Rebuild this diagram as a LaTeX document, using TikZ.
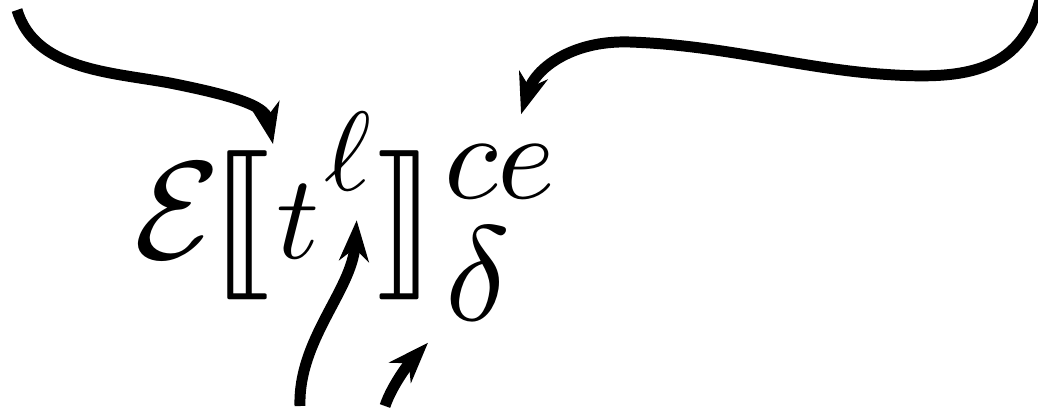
\documentclass[tikz,border=0pt]{standalone}
\usepackage{amsmath}
\usepackage{stmaryrd}
\usetikzlibrary{arrows.meta,calc}
\tikzset{
  glyph/.style={
    inner sep=0pt,
    anchor=base west
  },
  arrow/.style={
    -{Stealth[length=29pt,width=21pt,inset=9pt]},
    line width=7.8pt,
    black
  }
}
\begin{document}
\begin{tikzpicture}[x=0.025cm,y=-0.025cm]
\useasboundingbox (0,0) rectangle (1038,410);
% the formula, glyph by glyph
\node[glyph, scale=9.9] (calE) at (132,258) {$\mathcal{E}$};
\node[glyph, scale=10.6] (lbr) at (208,262) {$\llbracket$};
\node[glyph, scale=8.5] (tt) at (274,258) {$t$};
\node[glyph, scale=8.0] (ell) at (322,190) {$\ell$};
\node[glyph, scale=10.6] (rbr) at (374,262) {$\rrbracket$};
\node[glyph, scale=8.8] (ce) at (442,198) {$ce$};
\node[glyph, scale=9.6] (dl) at (443,320) {$\delta$};
% free ends and tips
\coordinate (fromA) at (17,10);
\coordinate (fromB) at (1040,0);
\coordinate (fromC) at (300,406);
\coordinate (fromD) at (385,406);
\coordinate (tipA) at ([shift={(-1,-38)}]tt.north west);
\coordinate (tipB) at ([shift={(21,-28)}]ce.north);
\coordinate (tipC) at ([shift={(9,28)}]ell.south);
\coordinate (tipD) at ([shift={(-15,20)}]dl.south west);
% arrows
\draw[arrow] (fromA) .. controls (35,70) and (110,72) .. (170,83)
  .. controls (230,95) and (265,105) .. (tipA);
\draw[arrow] (fromB) .. controls (1020,75) and (960,80) .. (880,74)
  .. controls (800,68) and (720,45) .. (630,42)
  .. controls (570,40) and (535,70) .. (tipB);
\draw[arrow] (fromC) .. controls (298,340) and (352,290) .. (tipC);
\draw[arrow] (fromD) .. controls (392,385) and (410,362) .. (tipD);
\end{tikzpicture}
\end{document}
